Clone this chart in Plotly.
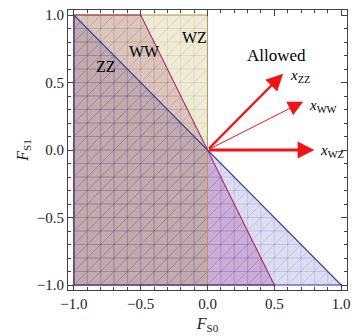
import itertools
import plotly.graph_objects as go

# ---- data ----
channels = ["WZ", "WW", "ZZ"]
normal_x = [1.0, 2.0, 1.0]      # excluded region: normal_x*F_S0 + normal_y*F_S1 <= 0
normal_y = [0.0, 1.0, 1.0]
arrow_length = 0.8
tick_vals = [-1.0, -0.5, 0.0, 0.5, 1.0]
box = (-1.0, 1.0)
mesh_step = 0.1

# ---- styles ----
edge_col = {"WZ": "rgb(178,158,88)", "WW": "rgb(165,45,100)", "ZZ": "rgb(65,65,160)"}
mesh_col = {"WZ": "rgba(150,130,50,0.18)", "WW": "rgba(140,40,80,0.14)", "ZZ": "rgba(60,60,170,0.2)"}
cell_col = {
    (1, 0, 0): "rgb(238,235,214)",
    (1, 1, 0): "rgb(218,198,188)",
    (1, 1, 1): "rgb(192,171,174)",
    (0, 1, 1): "rgb(203,174,215)",
    (0, 0, 1): "rgb(221,221,242)",
}
FONT = "Liberation Serif"

lo, hi = box
box_hp = [(-1, 0, -lo), (1, 0, hi), (0, -1, -lo), (0, 1, hi)]


def clip_poly(poly, hp):
    a, b, c = hp
    out = []
    n = len(poly)
    for i in range(n):
        p, q = poly[i], poly[(i + 1) % n]
        fp = a * p[0] + b * p[1] - c
        fq = a * q[0] + b * q[1] - c
        if fp <= 0:
            out.append(p)
        if (fp < 0 < fq) or (fq < 0 < fp):
            t = fp / (fp - fq)
            out.append((p[0] + t * (q[0] - p[0]), p[1] + t * (q[1] - p[1])))
    return out


def area(poly):
    s = 0
    for i in range(len(poly)):
        x0, y0 = poly[i]
        x1, y1 = poly[(i + 1) % len(poly)]
        s += x0 * y1 - x1 * y0
    return abs(s) / 2


def clip_seg(p0, p1, hps):
    tlo, thi = 0.0, 1.0
    for a, b, c in hps:
        f0 = a * p0[0] + b * p0[1] - c
        f1 = a * p1[0] + b * p1[1] - c
        if f0 > 0 and f1 > 0:
            return None
        if f0 > 0:
            tlo = max(tlo, f0 / (f0 - f1))
        elif f1 > 0:
            thi = min(thi, f0 / (f0 - f1))
    if thi - tlo < 1e-9:
        return None
    return ((p0[0] + tlo * (p1[0] - p0[0]), p0[1] + tlo * (p1[1] - p0[1])),
            (p0[0] + thi * (p1[0] - p0[0]), p0[1] + thi * (p1[1] - p0[1])))


fig = go.Figure()
square = [(lo, lo), (hi, lo), (hi, hi), (lo, hi)]

# filled cells (each combination of excluded regions)
for combo in itertools.product([1, 0], repeat=3):
    if combo not in cell_col:
        continue
    poly = square
    for k, inside in enumerate(combo):
        hp = (normal_x[k], normal_y[k], 0.0) if inside else (-normal_x[k], -normal_y[k], 0.0)
        poly = clip_poly(poly, hp)
        if not poly:
            break
    if not poly or area(poly) < 1e-9:
        continue
    xs = [p[0] for p in poly] + [poly[0][0]]
    ys = [p[1] for p in poly] + [poly[0][1]]
    fig.add_trace(go.Scatter(x=xs, y=ys, mode="lines", fill="toself", fillcolor=cell_col[combo],
                             line=dict(width=0), hoverinfo="skip", showlegend=False))

# mesh lines
nsteps = int(round((hi - lo) / mesh_step))
for k, ch in enumerate(channels):
    hps = box_hp + [(normal_x[k], normal_y[k], 0.0)]
    xs, ys = [], []
    segs = []
    for i in range(nsteps + 1):
        v = lo + i * mesh_step
        segs.append(((v, lo), (v, hi)))
        segs.append(((lo, v), (hi, v)))
    for i in range(-nsteps, nsteps + 1):
        d = i * mesh_step
        segs.append(((lo - 1, lo - 1 + d), (hi + 1, hi + 1 + d)))
    for p0, p1 in segs:
        r = clip_seg(p0, p1, hps)
        if r:
            xs += [r[0][0], r[1][0], None]
            ys += [r[0][1], r[1][1], None]
    fig.add_trace(go.Scatter(x=xs, y=ys, mode="lines", line=dict(color=mesh_col[ch], width=0.8),
                             hoverinfo="skip", showlegend=False))

# region outlines
for k, ch in enumerate(channels):
    poly = clip_poly(square, (normal_x[k], normal_y[k], 0.0))
    xs = [p[0] for p in poly] + [poly[0][0]]
    ys = [p[1] for p in poly] + [poly[0][1]]
    fig.add_trace(go.Scatter(x=xs, y=ys, mode="lines", line=dict(color=edge_col[ch], width=1.1),
                             hoverinfo="skip", showlegend=False))

# arrows (normals)
arrow_w = {"WZ": 2.8, "WW": 1.0, "ZZ": 2.4}
arrow_sz = {"WZ": 1.2, "WW": 3.0, "ZZ": 1.4}
label_off = {"WZ": (0.03, -0.005), "WW": (0.03, -0.03), "ZZ": (0.04, -0.02)}
for k, ch in enumerate(channels):
    nrm = (normal_x[k] ** 2 + normal_y[k] ** 2) ** 0.5
    tx = arrow_length * normal_x[k] / nrm
    ty = arrow_length * normal_y[k] / nrm
    fig.add_annotation(x=tx, y=ty, ax=0, ay=0, xref="x", yref="y", axref="x", ayref="y",
                       text="", showarrow=True, arrowhead=2, arrowsize=arrow_sz[ch],
                       arrowwidth=arrow_w[ch], arrowcolor="rgb(240,20,20)")
    dx, dy = label_off[ch]
    fig.add_annotation(x=tx + dx, y=ty + dy, xref="x", yref="y", showarrow=False,
                       xanchor="left", yanchor="middle",
                       text=f"<i>x</i><sub>{ch}</sub>",
                       font=dict(family=FONT, size=15, color="black"))

# region labels
region_lbl = {"WZ": (-0.1, 0.83), "WW": (-0.475, 0.73), "ZZ": (-0.76, 0.62)}
for ch, (lx, ly) in region_lbl.items():
    fig.add_annotation(x=lx, y=ly, xref="x", yref="y", showarrow=False, text=ch,
                       font=dict(family=FONT, size=16, color="black"))
fig.add_annotation(x=0.52, y=0.70, xref="x", yref="y", showarrow=False, text="Allowed",
                   font=dict(family=FONT, size=17, color="black"))

axis_common = dict(
    tickvals=tick_vals, tickformat=".1f", ticks="inside", ticklen=6, tickwidth=1,
    tickcolor="#444", showline=True, linecolor="#444", linewidth=1, mirror="ticks",
    showgrid=False, zeroline=False, tickfont=dict(family=FONT, size=15, color="#222"),
    minor=dict(dtick=0.1, tick0=0, ticks="inside", ticklen=3, tickcolor="#444", showgrid=False),
)
fig.update_xaxes(range=[-1.044, 1.044], title=dict(text="<i>F</i><sub>S0</sub>",
                 font=dict(family=FONT, size=16, color="#222"), standoff=6), **axis_common)
fig.update_yaxes(range=[-1.037, 1.037], title=dict(text="<i>F</i><sub>S1</sub>",
                 font=dict(family=FONT, size=16, color="#222"), standoff=4), **axis_common)
fig.update_layout(width=356, height=336, margin=dict(l=68, r=6, t=10, b=46),
                  paper_bgcolor="white", plot_bgcolor="white", showlegend=False)
fig.write_html("out.html")
